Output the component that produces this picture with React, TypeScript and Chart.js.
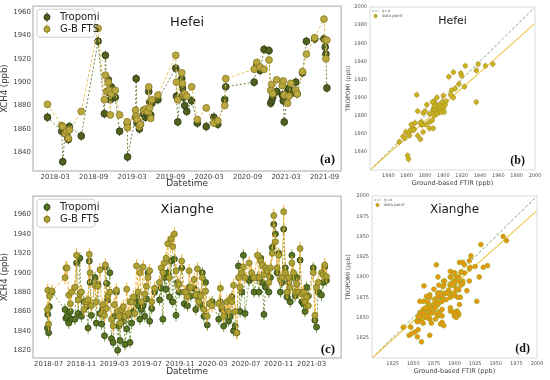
import React, { useEffect, useRef } from 'react';
import { Chart, registerables } from 'chart.js';
Chart.register(...registerables);

// ---------- Data ----------
// x values are months since 2018-01 (2018-03 = 2)
const hefeiMonths = [0.81,3.03,3.19,3.55,3.80,4.06,4.22,6.07,8.70,9.68,9.84,10.09,10.30,10.45,10.61,10.76,11.38,12.05,13.24,13.29,14.53,14.63,14.78,15.14,15.30,15.76,16.07,16.38,16.59,16.74,16.90,17.10,18.03,20.81,20.92,21.12,21.74,21.85,22.00,22.21,22.52,23.29,24.16,25.56,26.74,27.36,28.44,28.60,33.03,33.44,33.96,34.58,35.35,35.61,35.76,35.92,36.54,37.41,37.57,37.72,38.24,38.44,38.75,39.53,39.73,40.56,41.18,42.46,43.91,44.11,44.22,44.37];
const hefeiTropomi = [1870,1858,1832,1857,1855,1851,1862,1854,1935,1873,1923,1892,1902,1891,1885,1896,1887,1858,1865,1836,1870,1903,1865,1860,1864,1873,1870,1872,1892,1883,1872,1882,1885,1912,1888,1866,1903,1895,1887,1880,1875,1884,1865,1862,1870,1864,1885,1896,1900,1915,1910,1928,1927,1882,1884,1887,1892,1889,1884,1866,1892,1895,1890,1900,1890,1908,1935,1937,1937,1930,1924,1895];
const hefeiFTS = [1881,1863,1862,1856,1858,1852,1859,1875,1946,1885,1906,1892,1900,1893,1872,1890,1893,1872,1866,1861,1876,1871,1868,1862,1864,1876,1877,1875,1896,1878,1869,1885,1889,1923,1900,1885,1908,1899,1889,1890,1888,1896,1868,1878,1865,1867,1880,1903,1911,1917,1913,1911,1919,1893,1898,1890,1902,1897,1901,1889,1882,1888,1899,1893,1890,1909,1924,1938,1954,1936,1920,1936];
const hefeiTickMonths = [2, 8, 14, 20, 26, 32, 38, 44];
const hefeiTickLabels = ['2018-03','2018-09','2019-03','2019-09','2020-03','2020-09','2021-03','2021-09'];

const xiangheMonths = [5.85,5.9,6.0,6.1, 6.4, 8.0, 8.1, 8.25,8.45,8.65,8.8, 9.2,9.4,9.6,9.8, 10.0,10.3,10.6, 10.8,10.95,11.05,11.2, 11.65,11.8,12.0, 12.25,12.45,12.6,12.8, 12.9,13.05,13.2, 13.45,13.65,13.85,14.0, 14.25,14.4,14.55,14.7,14.85, 15.1,15.3,15.5,15.7, 15.9,16.1,16.3,16.5, 16.7,16.9,17.1,17.3, 17.5,17.7,17.9,18.1, 18.3,18.55,18.9, 19.5,19.7,19.9,20.1, 20.3,20.5,20.7,20.9, 21.1,21.3,21.5,21.7, 21.9,22.2,22.5, 22.7,22.9,23.1,23.3, 23.7,23.9,24.1,24.3, 24.5,24.7,24.9,25.1, 25.3,25.6,25.9, 26.7,26.9,27.1,27.3, 27.7,27.9,28.1,28.3, 28.5,28.7,28.9,29.1, 29.3,29.5,29.7,29.9, 30.4,30.7,31.0, 31.4,31.6,31.8,32.0, 32.2,32.4,32.6,32.8, 33.0,33.2,33.4,33.6, 33.8,34.0,34.2,34.4, 34.6,34.8,35.0,35.2, 35.4,35.6,35.8,36.0, 36.2,36.4,36.6,36.8, 37.0,37.2,37.4,37.6, 38.2,38.4,38.6,38.8, 39.2,39.4,39.6,39.8];
const xiangheTropomi = [1843,1857,1838,1865, 1880, 1862, 1853, 1855,1848,1860,1852, 1852,1910,1858,1915, 1855,1870,1865, 1843,1912,1890,1856, 1895,1848,1888, 1858,1847,1862,1835, 1906,1889,1872, 1900,1832,1828,1855, 1880,1820,1845,1830,1860, 1850,1826,1842,1856, 1828,1848,1860,1870, 1875,1866,1852,1862, 1866,1855,1873,1900, 1850,1863,1880, 1872,1884,1852,1895, 1883,1900,1875,1912, 1870,1914,1856,1890, 1880,1905,1868, 1880,1866,1885,1876, 1884,1862,1875,1878, 1867,1900,1855,1890, 1846,1868,1870, 1852,1870,1862,1845, 1858,1850,1855,1875, 1840,1845,1838,1907, 1860,1880,1918,1858, 1892,1895,1880, 1895,1880,1915,1890, 1857,1885,1900,1880, 1895,1926,1950,1940, 1900,1920,1880,1890, 1945,1905,1875,1890, 1870,1918,1895,1876, 1895,1880,1913,1870, 1868,1860,1885,1876, 1905,1851,1844,1880, 1877,1890,1906,1892];
const xiangheFTS = [1862,1882,1847,1876, 1881, 1895, 1905, 1905,1877,1868,1880, 1885,1918,1872,1878, 1880,1862,1870, 1872,1919,1900,1866, 1887,1870,1886, 1903,1858,1867,1856, 1908,1863,1876, 1880,1852,1845,1867, 1882,1860,1855,1848,1862, 1865,1855,1883,1858, 1870,1870,1875,1858, 1907,1880,1900,1870, 1906,1878,1886,1895, 1902,1870,1884, 1890,1905,1900,1910, 1915,1930,1895,1935, 1927,1940,1902,1887, 1888,1912,1880, 1880,1875,1902,1885, 1893,1877,1904,1870, 1876,1895,1862,1881, 1855,1868,1866, 1868,1884,1865,1855, 1870,1860,1872,1870, 1887,1860,1838,1895, 1885,1900,1906,1895, 1910,1900,1895, 1918,1895,1912,1908, 1898,1905,1902,1890, 1905,1920,1959,1932, 1905,1918,1893,1895, 1963,1900,1880,1895, 1885,1910,1900,1880, 1888,1880,1925,1878, 1880,1870,1875,1866, 1900,1856,1885,1890, 1900,1898,1908,1896];
const xiangheTickMonths = [6, 10, 14, 18, 22, 26, 30, 34, 38];
const xiangheTickLabels = ['2018-07','2018-11','2019-03','2019-07','2019-11','2020-03','2020-07','2020-11','2021-03'];

const hefeiYTicks = [1840, 1860, 1880, 1900, 1920, 1940, 1960];
const xiangheYTicks = [1820, 1840, 1860, 1880, 1900, 1920, 1940, 1960];
const hefeiScatterTicks = [1840, 1860, 1880, 1900, 1920, 1940, 1960, 1980, 2000];
const xiangheScatterTicks = [1825, 1850, 1875, 1900, 1925, 1950, 1975, 2000];

// uncertainties (ppb)
const hefeiTropomiErr = 4;
const hefeiFtsErr = 3;
const xiangheTropomiErr = 6;
const xiangheFtsErr = 7;
// fit line: [slope, intercept]
const hefeiFit = [0.9, 182];
const xiangheFit = [0.91, 162];

// ---------- Styling ----------
const FONT = '"DejaVu Sans", sans-serif';
Chart.defaults.font.family = FONT;

const errorBarPlugin = {
  id: 'errorBars',
  beforeDatasetDraw(chart: any, args: any) {
    const ds: any = chart.data.datasets[args.index];
    if (!ds.errY && !ds.errX) return;
    const xs = chart.scales.x, ys = chart.scales.y, ctx = chart.ctx, a = chart.chartArea;
    ctx.save();
    ctx.beginPath();
    ctx.rect(a.left, a.top, a.right - a.left, a.bottom - a.top);
    ctx.clip();
    ctx.strokeStyle = ds.errColor;
    ctx.lineWidth = ds.errWidth || 1;
    ctx.beginPath();
    for (const p of ds.data) {
      const px = xs.getPixelForValue(p.x), py = ys.getPixelForValue(p.y);
      if (ds.errY) {
        ctx.moveTo(px, ys.getPixelForValue(p.y - ds.errY));
        ctx.lineTo(px, ys.getPixelForValue(p.y + ds.errY));
      }
      if (ds.errX) {
        ctx.moveTo(xs.getPixelForValue(p.x - ds.errX), py);
        ctx.lineTo(xs.getPixelForValue(p.x + ds.errX), py);
      }
    }
    ctx.stroke();
    ctx.restore();
  },
};

function makeDeco(o: any) {
  return {
    id: 'deco',
    afterDraw(chart: any) {
      const { ctx, chartArea: a } = chart;
      ctx.save();
      ctx.strokeStyle = o.frameColor;
      ctx.lineWidth = o.frameWidth;
      ctx.strokeRect(a.left, a.top, a.right - a.left, a.bottom - a.top);
      ctx.fillStyle = '#1a1a1a';
      ctx.font = `${o.titleSize}px ${FONT}`;
      ctx.textAlign = 'center';
      ctx.textBaseline = 'middle';
      ctx.fillText(o.title, (a.left + a.right) / 2 + (o.titleDx || 0), a.top + o.titleDy);
      ctx.font = `bold ${o.labelSize}px "Liberation Serif", serif`;
      ctx.textAlign = 'right';
      ctx.textBaseline = 'alphabetic';
      ctx.fillStyle = '#111';
      ctx.fillText(o.label, a.right - o.labelDx, a.bottom - o.labelDy);
      if (o.tsLegend) {
        const lx = a.left + 4, ly = a.top + 3, w = 58, h = 28;
        ctx.fillStyle = 'rgba(255,255,255,0.9)';
        ctx.strokeStyle = '#cfcfcf';
        ctx.lineWidth = 1;
        ctx.beginPath();
        (ctx as any).roundRect(lx, ly, w, h, 3);
        ctx.fill();
        ctx.stroke();
        o.tsLegend.forEach((it: any, i: number) => {
          const cx = lx + 10, cy = ly + 8 + i * 12;
          ctx.strokeStyle = it.err;
          ctx.lineWidth = 1;
          ctx.beginPath();
          ctx.moveTo(cx, cy - 5);
          ctx.lineTo(cx, cy + 5);
          ctx.stroke();
          ctx.fillStyle = it.fill;
          ctx.strokeStyle = it.stroke;
          ctx.beginPath();
          ctx.arc(cx, cy, 3, 0, Math.PI * 2);
          ctx.fill();
          ctx.stroke();
          ctx.fillStyle = '#222';
          ctx.font = `10px ${FONT}`;
          ctx.textAlign = 'left';
          ctx.textBaseline = 'middle';
          ctx.fillText(it.text, lx + 23, cy);
        });
      }
      if (o.scLegend) {
        const lx = a.left + 2, ly1 = a.top + 4, ly2 = a.top + 9;
        ctx.strokeStyle = o.scLegend.dash;
        ctx.lineWidth = 0.8;
        ctx.setLineDash([2, 1]);
        ctx.beginPath();
        ctx.moveTo(lx, ly1);
        ctx.lineTo(lx + 7, ly1);
        ctx.stroke();
        ctx.setLineDash([]);
        ctx.fillStyle = o.scLegend.fill;
        ctx.strokeStyle = o.scLegend.stroke;
        ctx.beginPath();
        ctx.arc(lx + 3.5, ly2, 1.6, 0, Math.PI * 2);
        ctx.fill();
        ctx.stroke();
        ctx.fillStyle = '#555';
        ctx.font = `4px ${FONT}`;
        ctx.textAlign = 'left';
        ctx.textBaseline = 'middle';
        ctx.fillText('y=x', lx + 10, ly1);
        ctx.fillText('data point', lx + 10, ly2);
      }
      ctx.restore();
    },
  };
}

const plainTick = (v: any) => String(v);

function tsConfig(p: any) {
  const trop = p.months.map((m: number, i: number) => ({ x: m, y: p.trop[i] }));
  const fts = p.months.map((m: number, i: number) => ({ x: m, y: p.fts[i] }));
  const c = p.colors;
  return {
    type: 'line',
    data: {
      datasets: [
        {
          label: 'G-B FTS', data: fts, order: 1,
          borderColor: c.ftsLine, borderWidth: 1, borderDash: [3, 2],
          pointRadius: p.r, pointBackgroundColor: c.ftsFill, pointBorderColor: c.ftsEdge, pointBorderWidth: 0.8,
          errY: p.ftsErr, errColor: c.ftsErr,
        },
        {
          label: 'Tropomi', data: trop, order: 2,
          borderColor: c.tropLine, borderWidth: 1, borderDash: [2, 2],
          pointRadius: p.r, pointBackgroundColor: c.tropFill, pointBorderColor: c.tropEdge, pointBorderWidth: 0.8,
          errY: p.tropErr, errColor: c.tropErr,
        },
      ],
    },
    options: {
      responsive: false, animation: false, devicePixelRatio: 1,
      layout: { padding: { top: p.padTop, right: 3, left: 0, bottom: 0 } },
      plugins: { legend: { display: false }, tooltip: { enabled: false } },
      scales: {
        x: {
          type: 'linear', min: p.xMin, max: p.xMax,
          afterBuildTicks: (s: any) => { s.ticks = p.tickMonths.map((v: number) => ({ value: v })); },
          ticks: {
            autoSkip: false, maxRotation: 0, padding: 2, color: '#444', font: { size: 7 },
            callback: (v: any) => { const k = p.tickMonths.indexOf(v); return k >= 0 ? p.tickLabels[k] : ''; },
          },
          grid: { display: false, drawTicks: false },
          border: { display: false },
          title: { display: true, text: 'Datetime', color: '#333', font: { size: 9 }, padding: { top: 0, bottom: p.titleBottom } },
          afterFit: (s: any) => { s.height = p.xHeight; },
        },
        y: {
          type: 'linear', min: p.yMin, max: p.yMax,
          afterBuildTicks: (s: any) => { s.ticks = p.yTicks.map((v: number) => ({ value: v })); },
          ticks: { padding: 2, color: '#444', font: { size: 7 }, callback: plainTick },
          grid: { display: false, drawTicks: false },
          border: { display: false },
          title: { display: true, text: 'XCH4 (ppb)', color: '#333', font: { size: 8.5 }, padding: { top: 0, bottom: 0 } },
          afterFit: (s: any) => { s.width = 33; },
        },
      },
    },
    plugins: [errorBarPlugin, makeDeco({
      frameColor: '#c8c8c8', frameWidth: 1.6, title: p.title, titleSize: 13, titleDy: p.titleDy,
      label: p.label, labelSize: 13, labelDx: 6, labelDy: p.labelDy,
      tsLegend: [
        { text: 'Tropomi', fill: c.tropFill, stroke: c.tropEdge, err: c.tropErr },
        { text: 'G-B FTS', fill: c.ftsFill, stroke: c.ftsEdge, err: c.ftsErr },
      ],
    })],
  };
}

function scConfig(p: any) {
  const pts = p.fts.map((x: number, i: number) => ({ x, y: p.trop[i] }));
  const lo = p.min, hi = p.max;
  return {
    type: 'scatter',
    data: {
      datasets: [
        {
          label: 'data point', data: pts, order: 1,
          pointRadius: p.r, backgroundColor: p.fill, borderColor: p.edge, borderWidth: 0.7,
          errX: p.errX, errY: p.errY, errColor: p.err, errWidth: 0.8,
        },
        {
          label: 'y=x', data: [{ x: lo, y: lo }, { x: hi, y: hi }], showLine: true, order: 3,
          borderColor: '#7e9462', borderWidth: 0.9, borderDash: [3, 2], pointRadius: 0,
        },
        {
          label: 'fit', data: [{ x: lo, y: p.fit[0] * lo + p.fit[1] }, { x: hi, y: p.fit[0] * hi + p.fit[1] }],
          showLine: true, order: 2, borderColor: '#e6c440', borderWidth: 1.1, pointRadius: 0,
        },
      ],
    },
    options: {
      responsive: false, animation: false, devicePixelRatio: 1,
      layout: { padding: { top: p.padTop, right: p.padRight, left: 0, bottom: 0 } },
      plugins: { legend: { display: false }, tooltip: { enabled: false } },
      scales: {
        x: {
          type: 'linear', min: lo, max: hi,
          afterBuildTicks: (s: any) => { s.ticks = p.ticks.map((v: number) => ({ value: v })); },
          ticks: { autoSkip: false, maxRotation: 0, padding: 3, color: '#555', font: { size: 5 }, callback: plainTick },
          grid: { display: false, drawTicks: false },
          border: { display: false },
          title: { display: true, text: 'Ground-based FTIR (ppb)', color: '#444', font: { size: 6.5 }, padding: { top: 0, bottom: p.titleBottom } },
          afterFit: (s: any) => { s.height = p.xHeight; },
        },
        y: {
          type: 'linear', min: lo, max: hi,
          afterBuildTicks: (s: any) => { s.ticks = p.ticks.map((v: number) => ({ value: v })); },
          ticks: { padding: 3, color: '#555', font: { size: 5 }, callback: plainTick },
          grid: { display: false, drawTicks: false },
          border: { display: false },
          title: { display: true, text: 'TROPOMI (ppb)', color: '#444', font: { size: 6 }, padding: { top: 1, bottom: 0 } },
          afterFit: (s: any) => { s.width = p.yWidth; },
        },
      },
    },
    plugins: [errorBarPlugin, makeDeco({
      frameColor: '#dcdcdc', frameWidth: 1, title: p.title, titleSize: p.titleSize, titleDy: 14,
      label: p.label, labelSize: 12, labelDx: p.labelDx, labelDy: 6,
      scLegend: { dash: '#7e9462', fill: p.fill, stroke: p.edge },
    })],
  };
}

export default function App() {
  const ra = useRef<HTMLCanvasElement>(null);
  const rb = useRef<HTMLCanvasElement>(null);
  const rc = useRef<HTMLCanvasElement>(null);
  const rd = useRef<HTMLCanvasElement>(null);

  useEffect(() => {
    const charts: Chart[] = [];
    charts.push(new Chart(ra.current!, tsConfig({
      months: hefeiMonths, trop: hefeiTropomi, fts: hefeiFTS,
      tickMonths: hefeiTickMonths, tickLabels: hefeiTickLabels, yTicks: hefeiYTicks,
      xMin: -1.45, xMax: 46.6, yMin: 1824, yMax: 1965, padTop: 5, xHeight: 19, titleBottom: 1,
      r: 3.4, title: 'Hefei', titleDy: 16, label: '(a)', labelDy: 8,
      tropErr: hefeiTropomiErr, ftsErr: hefeiFtsErr,
      colors: {
        tropFill: '#50621f', tropEdge: '#2a340e', tropLine: '#71834a', tropErr: '#4d6a1a',
        ftsFill: '#b9a83d', ftsEdge: '#867622', ftsLine: '#e3c35a', ftsErr: '#cdb648',
      },
    }) as any));
    charts.push(new Chart(rc.current!, tsConfig({
      months: xiangheMonths, trop: xiangheTropomi, fts: xiangheFTS,
      tickMonths: xiangheTickMonths, tickLabels: xiangheTickLabels, yTicks: xiangheYTicks,
      xMin: 4.1, xMax: 41.6, yMin: 1812, yMax: 1979, padTop: 2, xHeight: 22, titleBottom: 3,
      r: 3, title: 'Xianghe', titleDy: 13, label: '(c)', labelDy: 5,
      tropErr: xiangheTropomiErr, ftsErr: xiangheFtsErr,
      colors: {
        tropFill: '#587524', tropEdge: '#2e3f10', tropLine: '#7d9a48', tropErr: '#79a040',
        ftsFill: '#aea232', ftsEdge: '#7d7420', ftsLine: '#f0b43c', ftsErr: '#f2b232',
      },
    }) as any));
    charts.push(new Chart(rb.current!, scConfig({
      fts: hefeiFTS, trop: hefeiTropomi, min: 1820, max: 2000, ticks: hefeiScatterTicks, fit: hefeiFit,
      padTop: 7, padRight: 15, yWidth: 26, xHeight: 20, titleBottom: 3, r: 2.2,
      errX: hefeiFtsErr, errY: hefeiTropomiErr,
      fill: '#cbb520', edge: '#a9971c', err: 'rgba(240,150,130,0.85)',
      title: 'Hefei', titleSize: 11, label: '(b)', labelDx: 10,
    }) as any));
    charts.push(new Chart(rd.current!, scConfig({
      fts: xiangheFTS, trop: xiangheTropomi, min: 1800, max: 2000, ticks: xiangheScatterTicks, fit: xiangheFit,
      padTop: 2, padRight: 13, yWidth: 28, xHeight: 22, titleBottom: 5, r: 2.4,
      errX: 3, errY: 3,
      fill: '#e8960c', edge: '#a4ac2a', err: 'rgba(240,160,60,0.85)',
      title: 'Xianghe', titleSize: 12, label: '(d)', labelDx: 7,
    }) as any));
    return () => charts.forEach((c) => c.destroy());
  }, []);

  const cs = (l: number, t: number): React.CSSProperties => ({ position: 'absolute', left: l, top: t });
  return (
    <div style={{ position: 'absolute', left: 0, top: 0, width: 550, height: 380, background: '#fff', overflow: 'hidden' }}>
      <canvas ref={ra} width={346} height={190} style={cs(0, 0)} />
      <canvas ref={rc} width={346} height={190} style={cs(0, 190)} />
      <canvas ref={rb} width={206} height={190} style={cs(344, 0)} />
      <canvas ref={rd} width={206} height={190} style={cs(344, 190)} />
    </div>
  );
}
